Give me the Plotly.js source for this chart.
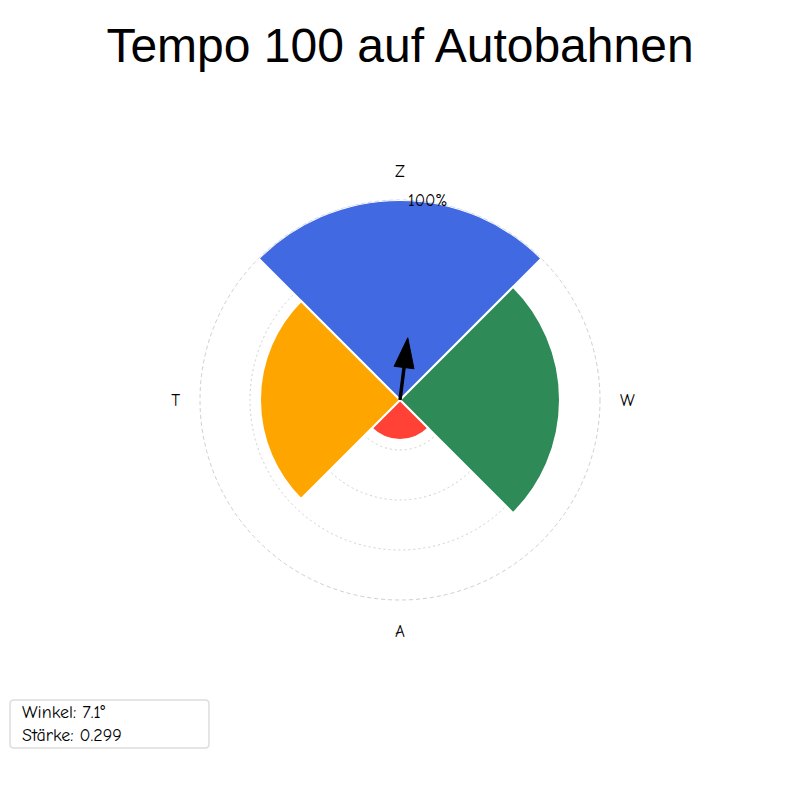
<!DOCTYPE html>
<html>
<head>
<meta charset="utf-8">
<script src="https://cdn.plot.ly/plotly-3.0.1.min.js"></script>
<style>
  body { margin: 0; background: #fff; }
  #chart { width: 800px; height: 800px; }
</style>
</head>
<body>
<div id="chart"></div>
<script>
// categories clockwise from the top
var labels = ['Z', 'W', 'A', 'T'];
var directions = [0, 90, 180, 270];
var values = [100, 80, 20, 70];
var colors = ['#4169E1', '#2E8B57', '#FF4136', '#FFA500'];

var textFont = 'Comic Sans MS, Comic Neue, DejaVu Sans, sans-serif';

// resultant vector: Z points up, W right, A down, T left
var vx = 0, vy = 0, total = 0;
for (var i = 0; i < values.length; i++) {
  var rad = directions[i] * Math.PI / 180;
  vx += values[i] * Math.sin(rad);
  vy += values[i] * Math.cos(rad);
  total += values[i];
}
var angle = Math.atan2(vx, vy) * 180 / Math.PI;
var strength = Math.sqrt(vx * vx + vy * vy) / total;
var arrowLen = strength * 100;

// arrow head as a small triangle around the end of the vector (radial units)
function toPolar(x, y) {
  return [Math.sqrt(x * x + y * y), Math.atan2(x, y) * 180 / Math.PI];
}
var a = angle * Math.PI / 180;
var ux = Math.sin(a), uy = Math.cos(a);   // along the arrow
var px = uy, py = -ux;                    // across the arrow
var headLen = 15, headHalf = 5, overhang = 1.5;
var tip = toPolar(ux * (arrowLen + overhang), uy * (arrowLen + overhang));
var baseC = arrowLen + overhang - headLen;
var left = toPolar(ux * baseC - px * headHalf, uy * baseC - py * headHalf);
var right = toPolar(ux * baseC + px * headHalf, uy * baseC + py * headHalf);

var bars = {
  type: 'barpolar',
  r: values,
  theta: directions,
  width: [90, 90, 90, 90],
  marker: { color: colors, line: { color: '#ffffff', width: 2 } },
  hoverinfo: 'skip',
  showlegend: false
};

var shaft = {
  type: 'scatterpolar',
  mode: 'lines',
  r: [0, baseC + 1],
  theta: [angle, angle],
  line: { color: '#000000', width: 3.5 },
  hoverinfo: 'skip',
  showlegend: false
};

var head = {
  type: 'scatterpolar',
  mode: 'lines',
  r: [tip[0], left[0], right[0], tip[0]],
  theta: [tip[1], left[1], right[1], tip[1]],
  fill: 'toself',
  fillcolor: '#000000',
  line: { color: '#000000', width: 1 },
  hoverinfo: 'skip',
  showlegend: false
};

// info box outline (paper units, plot area is 400px wide and high)
var bx0 = -0.475, bx1 = 0.0225, by0 = -0.37, by1 = -0.25, rc = 0.01;
var boxPath = 'M' + (bx0 + rc) + ',' + by1 +
  ' L' + (bx1 - rc) + ',' + by1 + ' Q' + bx1 + ',' + by1 + ' ' + bx1 + ',' + (by1 - rc) +
  ' L' + bx1 + ',' + (by0 + rc) + ' Q' + bx1 + ',' + by0 + ' ' + (bx1 - rc) + ',' + by0 +
  ' L' + (bx0 + rc) + ',' + by0 + ' Q' + bx0 + ',' + by0 + ' ' + bx0 + ',' + (by0 + rc) +
  ' L' + bx0 + ',' + (by1 - rc) + ' Q' + bx0 + ',' + by1 + ' ' + (bx0 + rc) + ',' + by1 + ' Z';

var layout = {
  width: 800,
  height: 800,
  margin: { l: 200, r: 200, t: 200, b: 200 },
  paper_bgcolor: '#ffffff',
  font: { family: textFont, size: 17, color: '#000000' },
  title: {
    text: 'Tempo 100 auf Autobahnen',
    font: { family: 'Liberation Sans, Arial, sans-serif', size: 48, color: '#000000' },
    x: 0.5, xanchor: 'center',
    y: 0.943, yanchor: 'middle'
  },
  polar: {
    bgcolor: 'rgba(0,0,0,0)',
    angularaxis: {
      rotation: 90,
      direction: 'clockwise',
      tickmode: 'array',
      tickvals: directions,
      ticktext: labels,
      showgrid: false,
      showline: false,
      ticks: 'outside',
      ticklen: 16,
      tickcolor: 'rgba(0,0,0,0)',
      tickfont: { family: textFont, size: 17 }
    },
    radialaxis: {
      range: [0, 100],
      angle: 90,
      tickangle: 90,
      tickmode: 'array',
      tickvals: [25, 50, 75, 100],
      ticktext: ['', '', '', '100%'],
      showline: false,
      ticks: 'outside',
      ticklen: 4,
      tickcolor: 'rgba(0,0,0,0)',
      showgrid: true,
      gridcolor: '#cfcfcf',
      griddash: '2px,3px',
      gridwidth: 1,
      tickfont: { family: textFont, size: 17 }
    }
  },
  shapes: [{
    type: 'circle', xref: 'paper', yref: 'paper',
    x0: 0, x1: 1, y0: 0, y1: 1,
    line: { color: '#cfcfcf', width: 1, dash: '4px,3px' },
    layer: 'below'
  }, {
    type: 'path', xref: 'paper', yref: 'paper',
    path: boxPath,
    line: { color: '#dddddd', width: 1.5 },
    fillcolor: '#ffffff',
    layer: 'above'
  }],
  annotations: [{
    xref: 'paper', yref: 'paper',
    x: -0.45, y: -0.31, xanchor: 'left', yanchor: 'middle',
    align: 'left',
    showarrow: false,
    text: 'Winkel: ' + angle.toFixed(1) + '°<br>Stärke: ' + strength.toFixed(3),
    font: { family: textFont, size: 18, color: '#000000' }
  }]
};

Plotly.newPlot('chart', [bars, shaft, head], layout, { displayModeBar: false });
</script>
</body>
</html>
